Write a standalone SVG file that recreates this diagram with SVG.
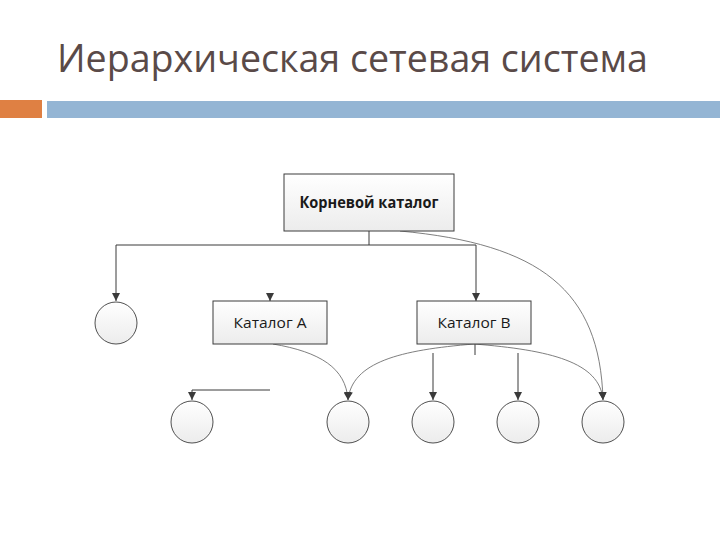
<svg xmlns="http://www.w3.org/2000/svg" width="720" height="540" viewBox="0 0 720 540">
<style>
.title{font-family:"Open Sans","Liberation Sans",sans-serif;font-size:38px;fill:#5a4a48}
.box{fill:url(#g);stroke:#3c3c3c;stroke-width:1}
.circ{fill:url(#g);stroke:#505050;stroke-width:1}
.lbl{font-family:"Open Sans","Liberation Sans",sans-serif;font-size:15px;fill:#1a1a1a;text-anchor:middle}
.b{font-weight:bold;font-size:16.5px}
.ln{fill:none;stroke:#3a3a3a;stroke-width:1}
.cv{fill:none;stroke:#707070;stroke-width:0.9}
</style>
<defs>
<linearGradient id="g" x1="0" y1="0" x2="0" y2="1"><stop offset="0" stop-color="#ffffff"/><stop offset="1" stop-color="#ececec"/></linearGradient>
<marker id="ar" viewBox="0 0 10 10" refX="10" refY="5" markerWidth="8" markerHeight="8" markerUnits="userSpaceOnUse" orient="auto"><path d="M0,0 L10,5 L0,10 z" fill="#3a3a3a"/></marker>
</defs>
<rect width="720" height="540" fill="#ffffff"/>
<text class="title" x="57" y="72" textLength="591" lengthAdjust="spacingAndGlyphs">Иерархическая сетевая система</text>
<rect x="0" y="100" width="42" height="18" fill="#df8043"/>
<rect x="47" y="101" width="673" height="17" fill="#94b5d4"/>

<g id="connectors">
<path class="ln" d="M369 231 V245"/>
<path class="ln" d="M116 245 H476"/>
<path class="ln" d="M116 245 V301" marker-end="url(#ar)"/>
<path class="ln" d="M476 245 V301" marker-end="url(#ar)"/>
<path class="ln" d="M270 294 V301" marker-end="url(#ar)"/>
<path class="ln" d="M270 390 H192 V400" marker-end="url(#ar)"/>
<path class="ln" d="M475 344 V355"/>
<path class="ln" d="M433 353 V400" marker-end="url(#ar)"/>
<path class="ln" d="M518 353 V400" marker-end="url(#ar)"/>
<path class="cv" d="M400 231 C540 244 600 290 603 400" marker-end="url(#ar)"/>
<path class="cv" d="M273 344 C320 352 346 368 348 400" marker-end="url(#ar)"/>
<path class="cv" d="M474 344 C400 350 352 362 348 400" marker-end="url(#ar)"/>
<path class="cv" d="M474 344 C550 350 600 362 603 400" marker-end="url(#ar)"/>
</g>

<g id="root"><rect class="box" x="284" y="174" width="170" height="57"/><text class="lbl b" x="369" y="208" textLength="139" lengthAdjust="spacingAndGlyphs">Корневой каталог</text></g>
<g id="catA"><rect class="box" x="213" y="301" width="114" height="43"/><text class="lbl" x="270" y="328" textLength="73" lengthAdjust="spacingAndGlyphs">Каталог A</text></g>
<g id="catB"><rect class="box" x="417" y="301" width="114" height="43"/><text class="lbl" x="474" y="328" textLength="73" lengthAdjust="spacingAndGlyphs">Каталог B</text></g>
<g id="c0"><circle class="circ" cx="116" cy="323" r="21"/></g>
<g id="c1"><circle class="circ" cx="192" cy="422" r="21"/></g>
<g id="c2"><circle class="circ" cx="348" cy="422" r="21"/></g>
<g id="c3"><circle class="circ" cx="433" cy="422" r="21"/></g>
<g id="c4"><circle class="circ" cx="518" cy="422" r="21"/></g>
<g id="c5"><circle class="circ" cx="603" cy="422" r="21"/></g>
</svg>
